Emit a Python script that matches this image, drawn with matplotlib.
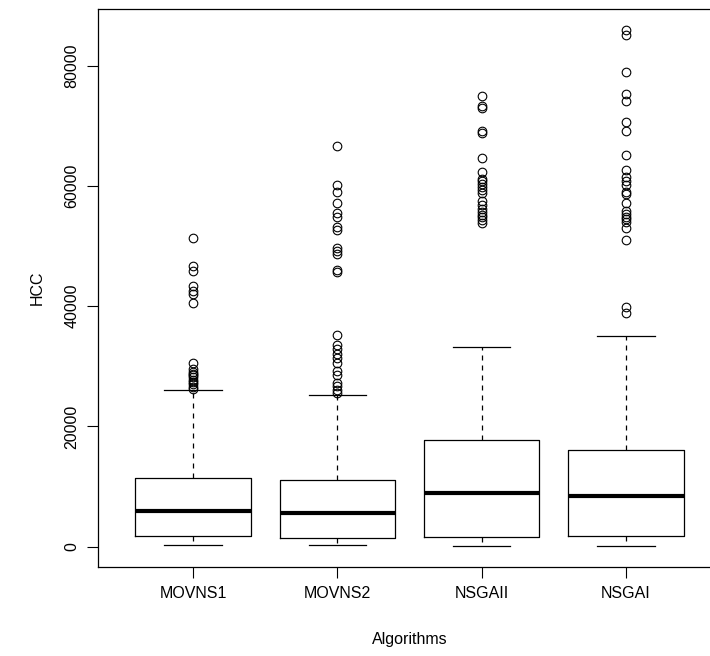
import numpy as np
import matplotlib.pyplot as plt
import matplotlib as mpl

mpl.rcParams['font.family'] = ['Liberation Sans', 'DejaVu Sans']

# algorithm names on the x axis
algorithms = ['MOVNS1', 'MOVNS2', 'NSGAII', 'NSGAI']

# five number summaries
whisker_low = [216, 220, 166, 50]
box_low = [1710, 1440, 1660, 1710]
medians = [5985, 5540, 8930, 8360]
box_high = [11360, 11020, 17670, 16130]
whisker_high = [25990, 25270, 33130, 35030]

# outliers per algorithm
fliers_movns1 = [51300, 46700, 45900, 43300, 42600, 42000, 40600, 30500, 29600,
                 29100, 28800, 28500, 28200, 27800, 27400, 27000, 26600, 26300]
fliers_movns2 = [66700, 60100, 59000, 57200, 55500, 54800, 53100, 52700, 49700,
                 49100, 48600, 46000, 45700, 35200, 33600, 32900, 32000, 31300,
                 30500, 29300, 28600, 27300, 26700, 26000, 25500]
fliers_nsgaii = [75000, 73300, 73000, 69200, 68800, 64600, 62300, 61200, 60800,
                 60300, 59800, 59300, 58800, 57500, 56800, 56200, 55700, 55200,
                 54800, 54300, 53800]
fliers_nsgai = [86000, 85100, 79000, 75300, 74200, 70700, 69200, 65100, 62600,
                61500, 60800, 60200, 59000, 58600, 57200, 55800, 55300, 54900,
                54500, 54000, 53000, 51000, 39900, 38800]
fliers = [fliers_movns1, fliers_movns2, fliers_nsgaii, fliers_nsgai]

stats = []
for i in range(len(algorithms)):
    stats.append({'label': algorithms[i], 'whislo': whisker_low[i], 'q1': box_low[i],
                  'med': medians[i], 'q3': box_high[i], 'whishi': whisker_high[i],
                  'fliers': fliers[i]})

fig = plt.figure(figsize=(7.1, 6.56), dpi=100)
# R style plot region, right edge runs past the image
ax = fig.add_axes([98 / 710, 89 / 656, 623 / 710, 558 / 656])

ax.bxp(stats, positions=[1, 2, 3, 4], widths=0.8, capwidths=0.4,
       boxprops=dict(color='black', linewidth=0.9),
       medianprops=dict(color='black', linewidth=3, solid_capstyle='butt'),
       whiskerprops=dict(color='black', linewidth=0.9, linestyle=(0, (4, 4))),
       capprops=dict(color='black', linewidth=0.9),
       flierprops=dict(marker='o', markerfacecolor='none', markeredgecolor='black',
                       markersize=6.2, markeredgewidth=0.8, linestyle='none'))

lo = min(whisker_low)
hi = max(max(f) for f in fliers)
r = hi - lo
ax.set_xlim(0.34, 4.66)
ax.set_ylim(lo - 0.04 * r, hi + 0.04 * r)

ax.set_yticks([0, 20000, 40000, 60000, 80000])
ax.set_xticks([1, 2, 3, 4])
ax.set_xticklabels(algorithms)
for lab in ax.get_yticklabels():
    lab.set_rotation(90)
    lab.set_va('center')
ax.tick_params(direction='out', length=7.9, width=0.8, pad=5.5, labelsize=11.5)

for s in ax.spines.values():
    s.set_linewidth(0.9)

ax.set_xlabel('Algorithms', fontsize=11.5, labelpad=22.5)
ax.set_ylabel('HCC', fontsize=11.5, labelpad=14)

fig.savefig('out.png', dpi=100)
